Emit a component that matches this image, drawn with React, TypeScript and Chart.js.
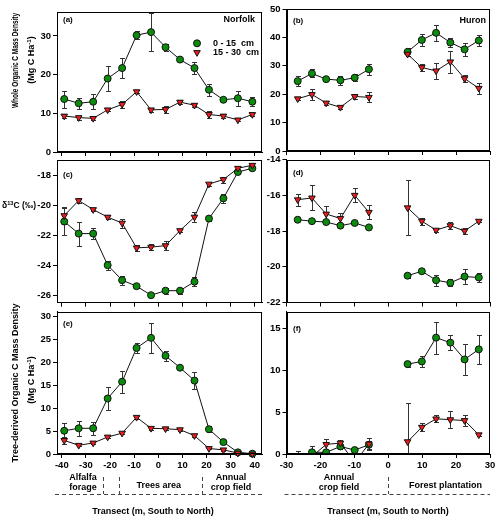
import React, { useEffect, useRef } from 'react';
import { Chart, registerables } from 'chart.js';

Chart.register(...registerables);

const FONT = '"Liberation Sans", Arial, Helvetica, sans-serif';
const GREEN = '#0c8c0c';
const RED = '#ee1c1c';
const INK = '#111111';
const W = 500;
const H = 522;
const YW = 30;
const XH = 26;

// ---------------- data ----------------
const norfolkX = [-39, -33, -27, -21, -15, -9, -3, 3, 9, 15, 21, 27, 33, 39];
const huronX = [-26.7, -22.5, -18.3, -14.1, -9.9, -5.7, 0, 5.7, 9.9, 14.1, 18.3, 22.5, 26.7];
const norfolkTicks = [-40, -30, -20, -10, 0, 10, 20, 30, 40];
const huronTicks = [-30, -20, -10, 0, 10, 20, 30];

// (a) Whole organic C, Norfolk
const aShallow = [13.7, 12.6, 13.0, 19.0, 21.7, 30.2, 31.0, 27.1, 23.9, 21.7, 16.1, 13.5, 13.9, 13.0];
const aShallowErr = [2.2, 1.4, 2.0, 3.3, 2.6, 1.1, 4.9, 0.9, 0.4, 1.5, 1.5, 0.4, 2.0, 1.2];
const aDeep = [9.3, 8.9, 8.7, 10.9, 12.3, 15.6, 10.9, 11.0, 12.9, 12.1, 9.7, 9.3, 8.3, 9.7];
const aDeepErr = [0.5, 0.5, 0.4, 0.3, 0.9, 0.4, 0.5, 1.0, 0.5, 0.4, 0.8, 0.6, 0.4, 0.4];

// (b) Whole organic C, Huron
const bShallow = [24.6, 27.3, 25.3, 24.9, 25.8, 28.8, null, 34.9, 39.1, 41.6, 38.2, 35.8, 38.9];
const bShallowErr = [1.8, 1.4, 0.6, 1.6, 1.3, 2.0, null, 1.3, 2.0, 2.9, 1.6, 2.4, 2.1];
const bDeep = [18.4, 19.9, 16.9, 15.4, 19.2, 18.9, null, 34.1, 29.4, 28.2, 31.4, 25.5, 22.1];
const bDeepErr = [0.5, 2.0, 0.8, 0.5, 0.8, 1.7, null, 0.8, 1.2, 2.9, 3.9, 1.3, 2.0];

// (c) d13C, Norfolk
const cShallow = [-21.1, -21.9, -21.9, -24.0, -25.0, -25.4, -26.0, -25.7, -25.7, -25.1, -20.9, -19.55, -17.8, -17.55];
const cShallowErr = [0.9, 0.8, 0.35, 0.3, 0.3, 0.15, 0.15, 0.2, 0.2, 0.3, 0.15, 0.3, 0.15, 0.1];
const cDeep = [-20.7, -19.7, -20.3, -20.8, -21.2, -22.85, -22.8, -22.7, -21.7, -20.8, -18.6, -18.3, -17.55, -17.35];
const cDeepErr = [0.55, 0.15, 0.1, 0.15, 0.3, 0.2, 0.2, 0.3, 0.1, 0.35, 0.1, 0.2, 0.1, 0.1];

// (d) d13C, Huron
const dShallow = [-17.37, -17.45, -17.5, -17.7, -17.55, -17.8, null, -20.5, -20.25, -20.75, -20.9, -20.55, -20.6];
const dShallowErr = [0.08, 0.08, 0.1, 0.1, 0.08, 0.1, null, 0.12, 0.06, 0.3, 0.2, 0.4, 0.25];
const dDeep = [-16.25, -16.15, -17.05, -17.3, -16.0, -16.95, null, -16.7, -17.45, -17.95, -17.7, -18.0, -17.45];
const dDeepErr = [0.33, 0.7, 0.45, 0.3, 0.4, 0.4, null, 1.55, 0.2, 0.08, 0.2, 0.15, 0.05];

// (e) Tree-derived organic C, Norfolk
const eShallow = [5.06, 5.6, 5.6, 12.1, 15.75, 23.1, 25.3, 21.4, 18.8, 16.0, 5.4, 2.6, 0.36, 0.07];
const eShallowErr = [1.8, 1.6, 1.4, 2.5, 2.4, 1.0, 3.3, 1.1, 0.3, 1.8, 0.7, 0.3, 0.1, 0.1];
const eDeep = [2.96, 1.9, 2.4, 3.7, 4.55, 8.0, 5.6, 5.5, 5.3, 4.0, 1.2, 0.9, 0.2, 0.0];
const eDeepErr = [0.8, 0.2, 0.2, 0.2, 0.3, 0.3, 0.3, 0.2, 0.2, 0.4, 0.2, 0.2, 0.1, 0.0];

// (f) Tree-derived organic C, Huron
const fShallow = [-0.6, 0.2, 0.2, 0.9, 0.47, 1.1, null, 10.74, 11.06, 13.9, 13.3, 11.3, 12.5];
const fShallowErr = [1.0, 0.8, 0.3, 0.35, 0.3, 0.5, null, 0.3, 0.7, 1.9, 0.9, 1.9, 1.7];
const fDeep = [-0.5, -0.3, 1.15, 1.3, -1.0, 1.2, null, 1.47, 3.2, 4.2, 4.1, 4.0, 2.3];
const fDeepErr = [0.3, 0.3, 0.65, 0.4, 0.3, 0.7, null, 4.6, 0.5, 0.4, 1.0, 0.6, 0.2];

const yTicksA = [0, 10, 20, 30];
const yTicksB = [0, 10, 20, 30, 40, 50];
const yTicksC = [-26, -24, -22, -20, -18];
const yTicksD = [-22, -20, -18, -16, -14];
const yTicksE = [0, 5, 10, 15, 20, 25, 30];
const yTicksF = [0, 5, 10, 15];

const seriesNames = ['0 - 15  cm', '15 - 30  cm'];
const norfolkBounds = [-22.8, -16.3, 18.2];
const huronBounds = [0];
const norfolkRegionAt = [-31.2, 0.2, 30.1];
const norfolkRegionText = [['Alfalfa', 'forage'], ['Trees area'], ['Annual', 'crop field']];
const huronRegionAt = [-14.5, 16.9];
const huronRegionText = [['Annual', 'crop field'], ['Forest plantation']];
const transectTitle = 'Transect (m, South to North)';

// ---------------- layout ----------------
type Num = number | null;
type PanelDef = {
  id: string;
  tag: string;
  tagPos: [number, number];
  site?: string;
  sitePos?: [number, number];
  xs: number[];
  s: Num[]; se: Num[]; d: Num[]; de: Num[];
  xMin: number; xMax: number; xTicks: number[]; xLabels: boolean;
  yMin: number; yMax: number; yTicks: number[];
  box: [number, number, number, number];
  clipBottom?: boolean;
  bounds?: number[];
  regionAt?: number[];
  regionText?: string[][];
  transectX?: number;
};

const panels: PanelDef[] = [
  { id: 'a', tag: '(a)', tagPos: [63, 20], site: 'Norfolk', sitePos: [255, 20], xs: norfolkX,
    s: aShallow, se: aShallowErr, d: aDeep, de: aDeepErr,
    xMin: -42, xMax: 43, xTicks: norfolkTicks, xLabels: false,
    yMin: 0, yMax: 36.2, yTicks: yTicksA, box: [57, 12, 262, 152] },
  { id: 'b', tag: '(b)', tagPos: [293, 20.5], site: 'Huron', sitePos: [486, 20.5], xs: huronX,
    s: bShallow, se: bShallowErr, d: bDeep, de: bDeepErr,
    xMin: -30, xMax: 30, xTicks: huronTicks, xLabels: false,
    yMin: 0, yMax: 50, yTicks: yTicksB, box: [286.5, 9, 490, 151] },
  { id: 'c', tag: '(c)', tagPos: [63, 175], xs: norfolkX,
    s: cShallow, se: cShallowErr, d: cDeep, de: cDeepErr,
    xMin: -42, xMax: 43, xTicks: norfolkTicks, xLabels: false,
    yMin: -26.5, yMax: -17, yTicks: yTicksC, box: [57, 160, 262, 302.7] },
  { id: 'd', tag: '(d)', tagPos: [293, 172.3], xs: huronX,
    s: dShallow, se: dShallowErr, d: dDeep, de: dDeepErr,
    xMin: -30, xMax: 30, xTicks: huronTicks, xLabels: false,
    yMin: -22, yMax: -14, yTicks: yTicksD, box: [286.5, 159.5, 490, 302.5] },
  { id: 'e', tag: '(e)', tagPos: [63, 323.3], xs: norfolkX,
    s: eShallow, se: eShallowErr, d: eDeep, de: eDeepErr,
    xMin: -42, xMax: 43, xTicks: norfolkTicks, xLabels: true,
    yMin: 0, yMax: 31, yTicks: yTicksE, box: [57, 311.7, 262, 454],
    bounds: norfolkBounds, regionAt: norfolkRegionAt, regionText: norfolkRegionText, transectX: 153 },
  { id: 'f', tag: '(f)', tagPos: [293, 328.3], xs: huronX,
    s: fShallow, se: fShallowErr, d: fDeep, de: fDeepErr,
    xMin: -30, xMax: 30, xTicks: huronTicks, xLabels: true,
    yMin: 0, yMax: 17, yTicks: yTicksF, box: [286.5, 311.7, 490, 454], clipBottom: true,
    bounds: huronBounds, regionAt: huronRegionAt, regionText: huronRegionText, transectX: 388 },
];

// ---------------- drawing helpers ----------------
function textAt(ctx: CanvasRenderingContext2D, s: string, x: number, y: number, size: number, align: CanvasTextAlign = 'left') {
  ctx.font = `bold ${size}px ${FONT}`;
  ctx.textAlign = align;
  ctx.textBaseline = 'middle';
  ctx.fillStyle = '#000';
  ctx.fillText(s, x, y);
}

type Seg = { t: string; size: number; dy?: number };
function drawRich(ctx: CanvasRenderingContext2D, segs: Seg[], cx: number, cy: number, rot: number, mainSize: number, targetW?: number) {
  ctx.save();
  ctx.translate(cx, cy);
  if (rot) ctx.rotate(rot);
  let total = 0;
  const widths = segs.map((s) => {
    ctx.font = `bold ${s.size}px ${FONT}`;
    const w = ctx.measureText(s.t).width;
    total += w;
    return w;
  });
  if (targetW) ctx.scale(targetW / total, 1);
  let x = -total / 2;
  ctx.textAlign = 'left';
  ctx.textBaseline = 'alphabetic';
  ctx.fillStyle = '#000';
  segs.forEach((s, i) => {
    ctx.font = `bold ${s.size}px ${FONT}`;
    ctx.fillText(s.t, x, 0.36 * mainSize + (s.dy || 0));
    x += widths[i];
  });
  ctx.restore();
}

function drawCircle(ctx: CanvasRenderingContext2D, x: number, y: number, r: number) {
  ctx.beginPath();
  ctx.arc(x, y, r, 0, Math.PI * 2);
  ctx.fillStyle = GREEN;
  ctx.fill();
  ctx.lineWidth = 1;
  ctx.strokeStyle = INK;
  ctx.stroke();
}

function drawDownTriangle(ctx: CanvasRenderingContext2D, x: number, y: number, r: number) {
  ctx.beginPath();
  let rad = Math.PI;
  ctx.moveTo(x + Math.sin(rad) * r, y - Math.cos(rad) * r);
  rad += (2 * Math.PI) / 3;
  ctx.lineTo(x + Math.sin(rad) * r, y - Math.cos(rad) * r);
  rad += (2 * Math.PI) / 3;
  ctx.lineTo(x + Math.sin(rad) * r, y - Math.cos(rad) * r);
  ctx.closePath();
  ctx.fillStyle = RED;
  ctx.fill();
  ctx.lineWidth = 1;
  ctx.strokeStyle = INK;
  ctx.stroke();
}

const unitSegs = (size: number): Seg[] => [
  { t: '(Mg C Ha', size },
  { t: '-1', size: 6, dy: -3.6 },
  { t: ')', size },
];

function pageText(ctx: CanvasRenderingContext2D, chart: any, p: PanelDef) {
  const ca = chart.chartArea;
  textAt(ctx, p.tag, p.tagPos[0], p.tagPos[1], 8, 'left');
  if (p.site && p.sitePos) textAt(ctx, p.site, p.sitePos[0], p.sitePos[1], 9, 'right');

  if (p.id === 'a') {
    drawCircle(ctx, 197, 43.3, 3.5);
    drawDownTriangle(ctx, 197, 52.5, 3.8);
    textAt(ctx, seriesNames[0], 213, 43.3, 9, 'left');
    textAt(ctx, seriesNames[1], 213, 52.7, 9, 'left');
    drawRich(ctx, [{ t: 'Whole Organic C Mass Density', size: 9 }], 15, 60.5, -Math.PI / 2, 9, 95);
    drawRich(ctx, unitSegs(9), 31, 60, -Math.PI / 2, 9);
  }
  if (p.id === 'c') {
    drawRich(ctx, [{ t: 'δ', size: 9 }, { t: '13', size: 6, dy: -3.6 }, { t: 'C (‰)', size: 9 }], 19, 205, 0, 9, 34);
  }
  if (p.id === 'e') {
    drawRich(ctx, [{ t: 'Tree-derived Organic C Mass Density', size: 9 }], 15, 383, -Math.PI / 2, 9);
    drawRich(ctx, unitSegs(9), 31, 380, -Math.PI / 2, 9);
  }
  if (p.bounds && p.regionAt && p.regionText) {
    const xs = chart.scales.x;
    ctx.save();
    ctx.strokeStyle = '#444';
    ctx.lineWidth = 1;
    ctx.setLineDash([4, 3]);
    p.bounds.forEach((b) => {
      const px = Math.round(xs.getPixelForValue(b)) + 0.5;
      ctx.beginPath();
      ctx.moveTo(px, 477);
      ctx.lineTo(px, 494);
      ctx.stroke();
    });
    ctx.beginPath();
    ctx.moveTo(ca.left - 2, 494.5);
    ctx.lineTo(ca.right, 494.5);
    ctx.stroke();
    ctx.restore();
    p.regionAt.forEach((v, i) => {
      const px = xs.getPixelForValue(v);
      const lines = p.regionText![i];
      if (lines.length === 2) {
        textAt(ctx, lines[0], px, 477.5, 9, 'center');
        textAt(ctx, lines[1], px, 488, 9, 'center');
      } else {
        textAt(ctx, lines[0], px, 485.5, 9, 'center');
      }
    });
    textAt(ctx, transectTitle, p.transectX || 0, 512, 9, 'center');
  }
}

function buildConfig(p: PanelDef): any {
  const [l, t, r, b] = p.box;
  const tickFont = { family: FONT, size: 9.5, weight: 'bold' as const };
  const ds = (vals: Num[], color: string, style: string, radius: number) => ({
    type: 'line',
    data: p.xs.map((x, i) => ({ x, y: vals[i] })),
    borderColor: INK,
    borderWidth: 1,
    pointBackgroundColor: color,
    pointBorderColor: INK,
    pointBorderWidth: 1,
    pointRadius: radius,
    pointHoverRadius: radius,
    pointStyle: style,
    pointRotation: style === 'triangle' ? 180 : 0,
    spanGaps: false,
    tension: 0,
    fill: false,
    clip: p.clipBottom ? { left: 10, top: 10, right: 10, bottom: 0 } : 10,
  });

  const plugin = {
    id: 'panel' + p.id,
    beforeDatasetsDraw(chart: any) {
      const { ctx, chartArea, scales } = chart;
      const x = scales.x;
      const y = scales.y;
      ctx.save();
      ctx.beginPath();
      ctx.rect(chartArea.left, chartArea.top, chartArea.right - chartArea.left, chartArea.bottom - chartArea.top);
      ctx.clip();
      ctx.strokeStyle = '#333';
      ctx.lineWidth = 1;
      const pairs: [Num[], Num[]][] = [[p.s, p.se], [p.d, p.de]];
      pairs.forEach(([vals, errs]) => {
        vals.forEach((v, i) => {
          const e = errs[i];
          if (v == null || e == null || e <= 0) return;
          const px = Math.round(x.getPixelForValue(p.xs[i])) + 0.5;
          const y1 = Math.round(y.getPixelForValue(v + e)) + 0.5;
          const y2 = Math.round(y.getPixelForValue(v - e)) + 0.5;
          ctx.beginPath();
          ctx.moveTo(px, y1);
          ctx.lineTo(px, y2);
          ctx.moveTo(px - 2.5, y1);
          ctx.lineTo(px + 2.5, y1);
          ctx.moveTo(px - 2.5, y2);
          ctx.lineTo(px + 2.5, y2);
          ctx.stroke();
        });
      });
      ctx.restore();
    },
    afterDraw(chart: any) {
      const { ctx, chartArea } = chart;
      ctx.save();
      ctx.strokeStyle = '#000';
      ctx.lineWidth = 1;
      const x0 = Math.round(chartArea.left) + 0.5;
      const y0 = Math.round(chartArea.top) + 0.5;
      const x1 = Math.round(chartArea.right) - 0.5;
      const y1 = Math.round(chartArea.bottom) - 0.5;
      ctx.strokeRect(x0, y0, x1 - x0, y1 - y0);
      pageText(ctx, chart, p);
      ctx.restore();
    },
  };

  return {
    type: 'line',
    data: {
      datasets: [ds(p.d, RED, 'triangle', 3.8), ds(p.s, GREEN, 'circle', 3.5)],
    },
    options: {
      responsive: false,
      animation: false,
      events: [],
      layout: {
        autoPadding: false,
        padding: { left: l - YW, top: t, right: W - r, bottom: H - b - XH },
      },
      plugins: { legend: { display: false }, tooltip: { enabled: false } },
      scales: {
        x: {
          type: 'linear',
          min: p.xMin,
          max: p.xMax,
          afterFit: (s: any) => { s.height = XH; },
          afterBuildTicks: (s: any) => { s.ticks = p.xTicks.map((v) => ({ value: v })); },
          grid: { display: true, drawOnChartArea: false, drawTicks: true, tickLength: 4, color: '#000', lineWidth: 1 },
          border: { display: true, color: '#000' },
          ticks: { display: p.xLabels, font: tickFont, color: '#000', padding: 2, maxRotation: 0, autoSkip: false },
        },
        y: {
          type: 'linear',
          min: p.yMin,
          max: p.yMax,
          afterFit: (s: any) => { s.width = YW; },
          afterBuildTicks: (s: any) => { s.ticks = p.yTicks.map((v) => ({ value: v })); },
          grid: { display: true, drawOnChartArea: false, drawTicks: true, tickLength: 4, color: '#000', lineWidth: 1 },
          border: { display: true, color: '#000' },
          ticks: { font: tickFont, color: '#000', padding: 2, autoSkip: false },
        },
      },
    },
    plugins: [plugin],
  };
}

function PanelChart({ p }: { p: PanelDef }) {
  const ref = useRef<HTMLCanvasElement>(null);
  useEffect(() => {
    if (!ref.current) return;
    const chart = new Chart(ref.current, buildConfig(p));
    return () => chart.destroy();
  }, [p]);
  return (
    <canvas
      ref={ref}
      width={W}
      height={H}
      style={{ position: 'absolute', left: 0, top: 0, width: W, height: H }}
    />
  );
}

export default function App() {
  return (
    <div style={{ position: 'absolute', left: 0, top: 0, width: W, height: H, background: '#fff', overflow: 'hidden' }}>
      {panels.map((p) => (
        <PanelChart key={p.id} p={p} />
      ))}
    </div>
  );
}
